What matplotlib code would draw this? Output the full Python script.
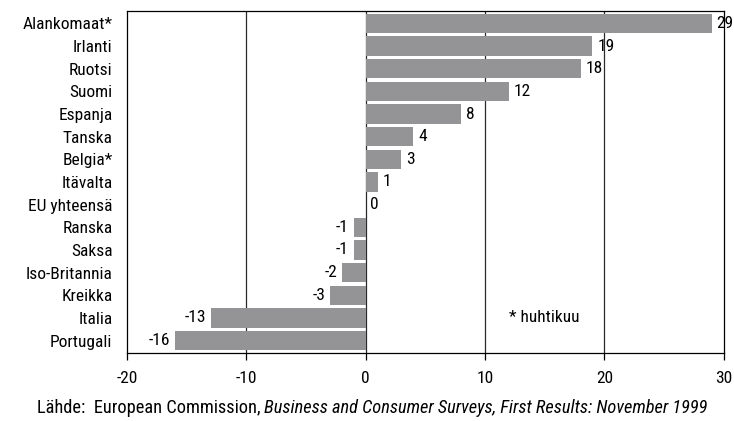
import matplotlib
matplotlib.use('Agg')
import matplotlib.pyplot as plt
from matplotlib import font_manager as fm

# data
countries = ["Alankomaat*", "Irlanti", "Ruotsi", "Suomi", "Espanja", "Tanska",
             "Belgia*", "Itävalta", "EU yhteensä", "Ranska", "Saksa",
             "Iso-Britannia", "Kreikka", "Italia", "Portugali"]
values = [29, 19, 18, 12, 8, 4, 3, 1, 0, -1, -1, -2, -3, -13, -16]
xticks = [-20, -10, 0, 10, 20, 30]

# pick a narrow face if one is installed
names = {f.name for f in fm.fontManager.ttflist}
wanted = ['Liberation Sans Narrow', 'Roboto Condensed', 'Open Sans Condensed',
          'Roboto', 'DejaVu Sans']
plt.rcParams['font.family'] = [n for n in wanted if n in names] or ['DejaVu Sans']
FS = 12.5
BAR = '#949497'

fig = plt.figure(figsize=(7.34, 4.21), dpi=100)
ax = fig.add_axes([0.173, 0.1615, 0.813, 0.8125])

ypos = list(range(len(countries)))
ax.barh(ypos, values, height=0.85, color=BAR, zorder=3)

for xv in [-10, 0, 10, 20]:
    ax.axvline(xv, color='#2a2a2a', lw=0.9, zorder=2)

for y, v in zip(ypos, values):
    if v >= 0:
        ax.text(v + 0.4, y, str(v), va='center', ha='left', fontsize=FS, zorder=4)
    else:
        ax.text(v - 0.4, y, str(v), va='center', ha='right', fontsize=FS, zorder=4)

ax.text(12, 13, "* huhtikuu", va='center', ha='left', fontsize=FS)

ax.set_xlim(-20, 30)
ax.set_ylim(len(countries) - 0.45, -0.55)
ax.set_xticks(xticks)
ax.set_xticklabels([str(t) for t in xticks], fontsize=FS)
ax.set_yticks(ypos)
ax.set_yticklabels(countries, fontsize=FS)
ax.tick_params(axis='y', length=0, pad=10.5)
ax.tick_params(axis='x', length=5, width=0.9, direction='out', pad=8)
for s in ax.spines.values():
    s.set_linewidth(0.9)

# source line: normal + italic part
SFS = 13.2
t1 = fig.text(0.05, 0.02, "Lähde:  European Commission, ", fontsize=SFS,
              ha='left', va='baseline')
fig.canvas.draw()
bb = t1.get_window_extent()
x2 = bb.x1 / fig.bbox.width
fig.text(x2, 0.02, "Business and Consumer Surveys, First Results: November 1999",
         fontsize=SFS, style='italic', ha='left', va='baseline')

fig.savefig('out.png', dpi=100)
